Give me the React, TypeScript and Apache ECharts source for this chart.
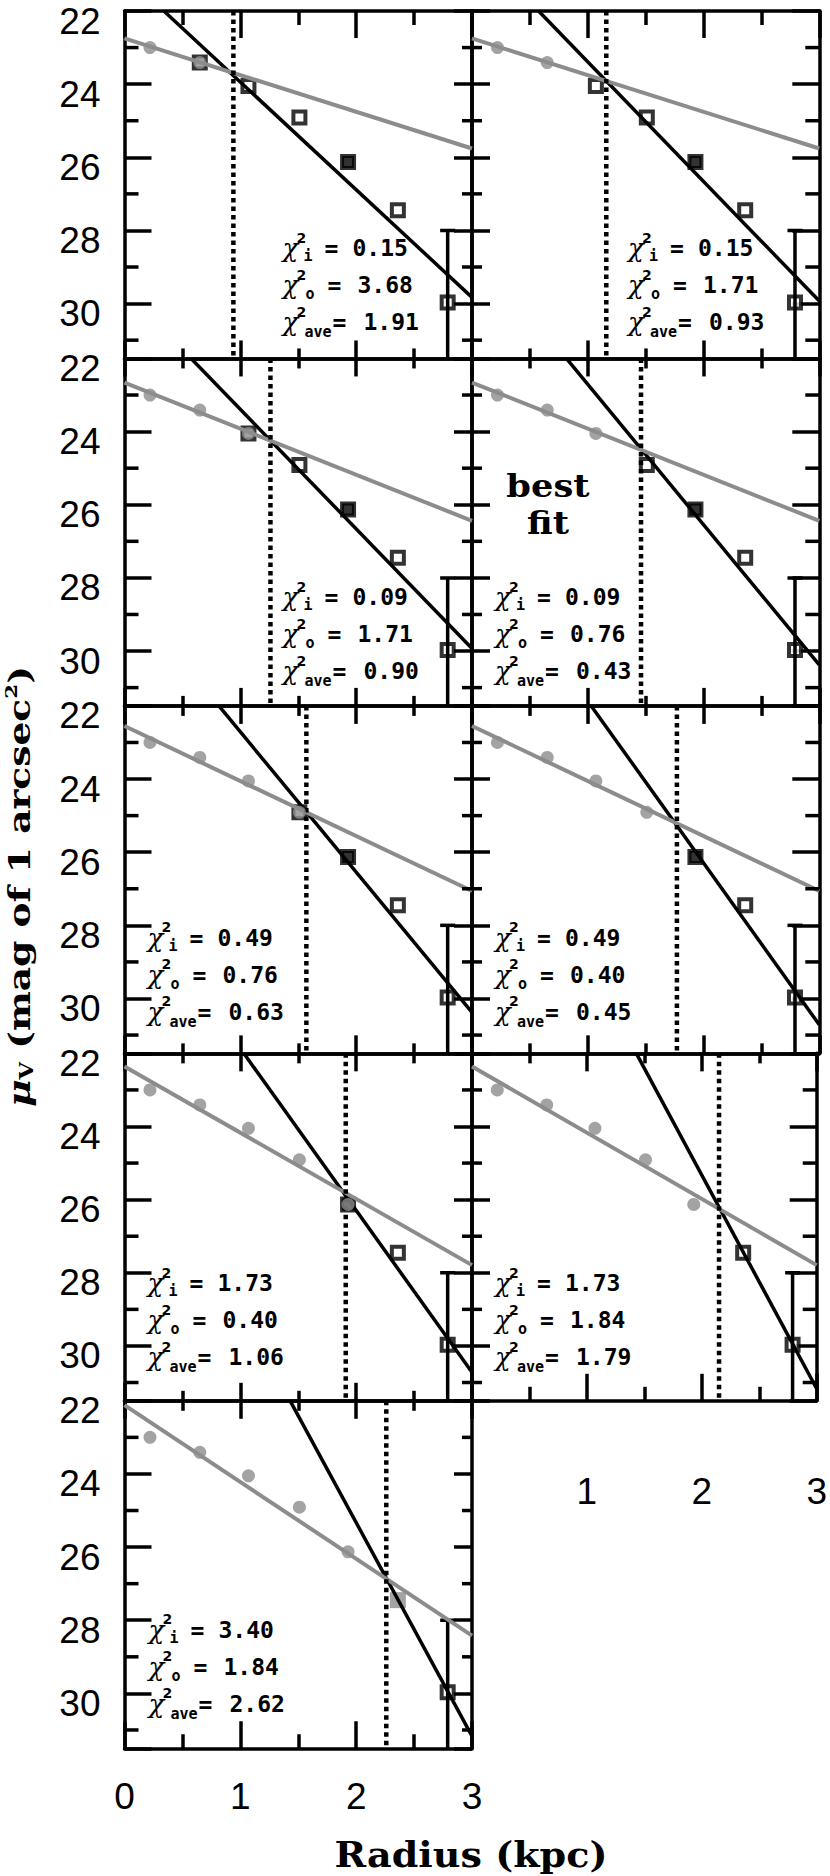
import { useEffect, useRef } from 'react';
import * as echarts from 'echarts';

// ---- data ----
const radiusKpc = [0.22, 0.65, 1.07, 1.51, 1.93, 2.36, 2.79];
const surfaceMu = [23.0, 23.41, 24.05, 24.91, 26.13, 27.45, 29.97];
const lastPointBarTop = 28.0;
const filledSquareIndex = 4;

const xTickLabels = [0, 1, 2, 3];
const yTickLabels = [22, 24, 26, 28, 30];
const yMinorTicks = [23, 25, 27, 29, 31];
const xMin = 0, xMax = 3, yMin = 22, yMax = 31.5;

// one entry per panel (row by row, left then right)
const breakRadius = [0.94, 1.16, 1.26, 1.46, 1.57, 1.77, 1.91, 2.15, 2.26];
const innerFitMuAt0 = [22.75, 22.75, 22.66, 22.66, 22.55, 22.55, 22.36, 22.36, 22.12];
const innerFitMuAt3 = [25.76, 25.76, 26.44, 26.44, 27.06, 27.06, 27.79, 27.79, 28.42];
const outerFitRAt22 = [0.34, 0.575, 0.575, 0.815, 0.815, 1.03, 1.03, 1.43, 1.43];
const outerFitMuAt3 = [29.83, 29.93, 29.93, 30.38, 30.38, 30.72, 30.72, 31.17, 31.17];
const innerPointCount = [2, 2, 3, 3, 4, 4, 5, 5, 5];
const outerFirstPoint = [1, 2, 2, 3, 3, 4, 4, 5, 5];
const graySquarePoint = [-1, -1, -1, -1, -1, -1, -1, -1, 5];
const chiInner = [0.15, 0.15, 0.09, 0.09, 0.49, 0.49, 1.73, 1.73, 3.40];
const chiOuter = [3.68, 1.71, 1.71, 0.76, 0.76, 0.40, 0.40, 1.84, 1.84];
const chiAve = [1.91, 0.93, 0.90, 0.43, 0.63, 0.45, 1.06, 1.79, 2.62];
const bestFitPanel = 3;

// ---- layout / style ----
const GRAY = '#8c8c8c';
const LW = 3.5;
const colLeft = [124.5, 472];
const colWidth = [347.5, 347.3];
const rowTop0 = 11;
const rowStep = 347.45;
const chiX = [158, 156, 158, 23, 23, 23, 23, 23, 24];
const chiY = [237, 237, 239, 239, 232, 232, 230, 230, 229];

function measure(text: string, font: string) {
  const c = document.createElement('canvas').getContext('2d')!;
  c.font = font;
  return c.measureText(text).width;
}

const txt = (text: string, x: number, y: number, st: any) => ({
  type: 'text', x, y, silent: true, z: 100,
  style: { text, fill: '#000', align: 'left', verticalAlign: 'middle', ...st },
});

const panelOuter = (i: number) => {
  const col = i % 2, row = Math.floor(i / 2);
  return [col === 0, col === 1, row === 0, i === 7 || i === 8]; // left, right, top, bottom
};

function buildOption() {
  const grid: any[] = [], xAxis: any[] = [], yAxis: any[] = [], series: any[] = [], graphic: any[] = [];
  const axisLine = { show: true, onZero: false, lineStyle: { color: '#000', width: LW } };

  for (let i = 0; i < 9; i++) {
    const col = i % 2, row = Math.floor(i / 2);
    const left = colLeft[col], top = rowTop0 + row * rowStep;
    grid.push({ left, top, width: colWidth[col], height: rowStep });
    const outer = panelOuter(i);
    const tl = (side: number) => (outer[side] ? 27 : 18);
    const tm = (side: number) => (outer[side] ? 14 : 10);

    const mkX = (pos: string, side: number, labels: boolean) => ({
      type: 'value', gridIndex: i, position: pos, min: xMin, max: xMax, interval: 1,
      axisLine, splitLine: { show: false },
      axisTick: { show: true, inside: true, length: tl(side), lineStyle: { color: '#000', width: LW } },
      minorTick: { show: true, splitNumber: 2, length: tm(side), lineStyle: { color: '#000', width: LW } },
      axisLabel: labels ? {
        show: true, margin: i === 7 ? 72 : 30, fontSize: 37, fontFamily: 'Liberation Sans', color: '#000',
        formatter: (v: number) => (xTickLabels.includes(v) && !(i === 7 && v === 0) ? String(v) : ''),
      } : { show: false },
    });
    xAxis.push(mkX('bottom', 3, outer[3]));
    xAxis.push(mkX('top', 2, false));

    const mkY = (pos: string, side: number, labels: boolean) => ({
      type: 'value', gridIndex: i, position: pos, min: yMin, max: yMax, inverse: true, interval: 2,
      axisLine, splitLine: { show: false },
      axisTick: { show: true, inside: true, length: tl(side), lineStyle: { color: '#000', width: LW } },
      axisLabel: labels ? {
        show: true, margin: 24, fontSize: 37, fontFamily: 'Liberation Sans', color: '#000',
        verticalAlign: 'top', lineHeight: 20,
        formatter: (v: number) => (yTickLabels.includes(v) ? String(v) : ''),
      } : { show: false },
    });
    yAxis.push(mkY('left', 0, col === 0));
    yAxis.push(mkY('right', 1, false));

    const base = { xAxisIndex: 2 * i, yAxisIndex: 2 * i, silent: true, animation: false };

    // outer-fit points (squares)
    const sq: any[] = [];
    for (let k = outerFirstPoint[i]; k < radiusKpc.length; k++) {
      const gray = graySquarePoint[i] === k;
      sq.push({
        value: [radiusKpc[k], surfaceMu[k]],
        symbolSize: gray ? 16 : 12,
        itemStyle: gray
          ? { color: GRAY, borderWidth: 0 }
          : { color: k === filledSquareIndex ? '#000' : '#fff', borderColor: '#000', borderWidth: 4 },
      });
    }
    series.push({ ...base, type: 'scatter', symbol: 'rect', data: sq, z: 2 });
    // outer fit (black)
    series.push({ ...base, type: 'line', symbol: 'none', z: 3, data: [[outerFitRAt22[i], yMin], [xMax, outerFitMuAt3[i]]], lineStyle: { color: '#000', width: LW } });
    // inner fit (gray)
    series.push({ ...base, type: 'line', symbol: 'none', z: 4, data: [[xMin, innerFitMuAt0[i]], [xMax, innerFitMuAt3[i]]], lineStyle: { color: GRAY, width: 4 } });
    // break radius (dotted)
    series.push({ ...base, type: 'line', symbol: 'none', z: 5, data: [[breakRadius[i], yMin], [breakRadius[i], yMax]], lineStyle: { color: '#000', width: 4.5, type: [4.5, 4], cap: 'butt' } });
    // error bar of the last point
    const rl = radiusKpc[radiusKpc.length - 1];
    series.push({ ...base, type: 'line', symbol: 'none', z: 3, data: [[rl, lastPointBarTop], [rl, yMax]], lineStyle: { color: '#000', width: LW } });
    series.push({ ...base, type: 'line', symbol: 'none', z: 3, data: [[rl - 0.065, lastPointBarTop], [rl + 0.065, lastPointBarTop]], lineStyle: { color: '#000', width: LW } });
    // inner-fit points (gray circles)
    const ci: any[] = [];
    for (let k = 0; k < innerPointCount[i]; k++) ci.push([radiusKpc[k], surfaceMu[k]]);
    series.push({ ...base, type: 'scatter', symbol: 'circle', symbolSize: 13, data: ci, z: 6, itemStyle: { color: GRAY } });

    // chi^2 annotations
    const vals = [chiInner, chiOuter, chiAve];
    const subs = ['i', 'o', 'ave'];
    const subOff = [21, 23, 22], subDy = [8, 9, 10], eqOff = [42, 45, 50], valOff = [70, 75, 81];
    for (let k = 0; k < 3; k++) {
      const x0 = left + chiX[i], yc = top + chiY[i] + 37 * k;
      graphic.push(txt('χ', x0, yc, { fontSize: 26, fontStyle: 'italic', fontFamily: 'DejaVu Serif', lineHeight: 26 }));
      graphic.push(txt('2', x0 + 14, yc - 10.5, { fontSize: 14, fontWeight: 'bold', fontFamily: 'DejaVu Sans', lineHeight: 14 }));
      graphic.push(txt(subs[k], x0 + subOff[k], yc + subDy[k], { fontSize: 15, fontWeight: 'bold', fontFamily: 'DejaVu Sans Mono', lineHeight: 14 }));
      graphic.push(txt('=', x0 + eqOff[k], yc, { fontSize: 23, fontWeight: 'bold', fontFamily: 'DejaVu Sans Mono', lineHeight: 23 }));
      graphic.push(txt(vals[k][i].toFixed(2), x0 + valOff[k], yc, { fontSize: 23, fontWeight: 'bold', fontFamily: 'DejaVu Sans Mono', lineHeight: 23 }));
    }
    if (i === bestFitPanel) {
      graphic.push({ ...txt('best', left + 76, top + 128, { fontSize: 31.5, fontWeight: 'bold', fontFamily: 'DejaVu Serif', align: 'center', lineHeight: 30 }), scaleX: 1.12 });
      graphic.push({ ...txt('fit', left + 76, top + 165, { fontSize: 31.5, fontWeight: 'bold', fontFamily: 'DejaVu Serif', align: 'center', lineHeight: 30 }), scaleX: 1.12 });
    }
  }

  // x-axis title
  const rw = measure('Radius (kpc)', 'bold 36px "DejaVu Serif"');
  graphic.push({
    ...txt('Radius (kpc)', 471, 1854.5, { fontSize: 36, fontWeight: 'bold', fontFamily: 'DejaVu Serif', align: 'center', lineHeight: 36 }),
    scaleX: 273 / rw,
  });

  // y-axis title (rotated)
  const pieces = [
    { t: 'μ', fs: 30, st: 'italic', dy: 0 },
    { t: 'V', fs: 18, st: 'normal', dy: 8 },
    { t: ' (mag of 1 arcsec', fs: 30, st: 'normal', dy: 0 },
    { t: '2', fs: 17, st: 'normal', dy: -8 },
    { t: ')', fs: 30, st: 'normal', dy: 0 },
  ];
  const widths = pieces.map(p => measure(p.t, `${p.st} bold ${p.fs}px "DejaVu Serif"`));
  const total = widths.reduce((a, b) => a + b, 0);
  let cx = -total / 2;
  const children: any[] = [];
  pieces.forEach((p, j) => {
    children.push(txt(p.t, cx, p.dy, { fontSize: p.fs, fontWeight: 'bold', fontStyle: p.st, fontFamily: 'DejaVu Serif', lineHeight: p.fs }));
    cx += widths[j];
  });
  graphic.push({ type: 'group', x: 19, y: 886.5, rotation: Math.PI / 2, scaleX: 441 / total, children });

  return { animation: false, backgroundColor: '#fff', grid, xAxis, yAxis, series, graphic };
}

// minor y ticks (odd magnitudes), placed through the axes' own scales
function buildMinorYTicks(chart: any) {
  const els: any[] = [];
  for (let i = 0; i < 9; i++) {
    const outer = panelOuter(i);
    const finder = { xAxisIndex: 2 * i, yAxisIndex: 2 * i };
    const lL = outer[0] ? 14 : 10, lR = outer[1] ? 14 : 10;
    yMinorTicks.forEach(v => {
      const a = chart.convertToPixel(finder, [xMin, v]);
      const b = chart.convertToPixel(finder, [xMax, v]);
      els.push({ type: 'rect', silent: true, z: 50, shape: { x: a[0], y: a[1] - LW / 2, width: lL, height: LW }, style: { fill: '#000' } });
      els.push({ type: 'rect', silent: true, z: 50, shape: { x: b[0] - lR, y: b[1] - LW / 2, width: lR, height: LW }, style: { fill: '#000' } });
    });
  }
  return els;
}

export default function App() {
  const ref = useRef<HTMLDivElement>(null);
  useEffect(() => {
    const chart = echarts.init(ref.current!, undefined, { renderer: 'svg' });
    const option: any = buildOption();
    chart.setOption(option);
    chart.setOption({ graphic: [...option.graphic, ...buildMinorYTicks(chart)] });
    return () => chart.dispose();
  }, []);
  return <div ref={ref} style={{ position: 'absolute', left: 0, top: 0, width: 830, height: 1876, background: '#fff' }} />;
}
